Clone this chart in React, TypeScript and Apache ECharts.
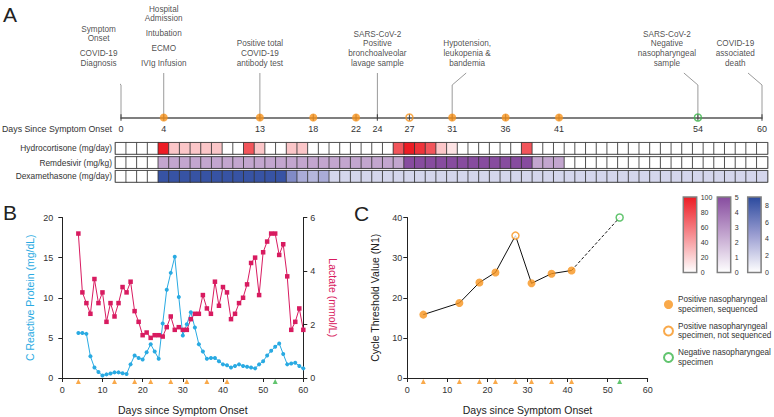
import React, { useEffect, useRef } from 'react';
import * as echarts from 'echarts';

const FONT = '"Liberation Sans", Arial, Helvetica, sans-serif';
const ORANGE = '#f7941d';
const GREEN = '#39b54a';
const BLUE = '#29aae2';
const CRIMSON = '#d81b60';

// ---------- Panel A: timeline ----------
const timelineDays = [0, 4, 13, 18, 22, 24, 27, 31, 36, 41, 54, 60];
const sampleDaysSeq = [4, 13, 18, 22, 31, 36, 41];
const sampleDaysNotSeq = [27];
const sampleDaysNeg = [54];

const annotationDays = [0, 4, 13, 24, 31, 54, 60];
const annotationTexts = [
  [['Symptom', 'Onset'], ['COVID-19', 'Diagnosis']],
  [['Hospital', 'Admission'], ['Intubation'], ['ECMO'], ['IVIg Infusion']],
  [['Positive total', 'COVID-19', 'antibody test']],
  [['SARS-CoV-2', 'Positive', 'bronchoalveolar', 'lavage sample']],
  [['Hypotension,', 'leukopenia &', 'bandemia']],
  [['SARS-CoV-2', 'Negative', 'nasopharyngeal', 'sample']],
  [['COVID-19', 'associated', 'death']],
];
// layout only (in days): text centre shift and leader-line bend
const annotationTextShift = [-2.1, 0, 0, 0, 1.4, -2.9, -2.5];
const annotationBend = [-1.03, 0, 0, 0, 1.31, -1.31, -1.31];

// ---------- Panel A: treatment heatmap ----------
const treatmentNames = ['Hydrocortisone (mg/day)', 'Remdesivir (mg/kg)', 'Dexamethasone (mg/day)'];
const hydrocortisone = [
  0, 0, 0, 0, 100, 25, 25, 25, 25, 25,
  0, 0, 75, 25, 0, 0, 25, 25, 0, 0,
  0, 0, 0, 0, 0, 0, 75, 100, 90, 75,
  25, 12.5, 0, 0, 0, 0, 0, 0, 75, 0,
  0, 0, 0, 0, 0, 0, 0, 0, 0, 0,
  0, 0, 0, 0, 0, 0, 0, 0, 0, 0,
  0,
];
const remdesivir = [
  0, 0, 0, 0, 2.5, 2.5, 2.5, 2.5, 2.5, 2.5,
  2.5, 2.5, 2.5, 2.5, 2.5, 2.5, 2.5, 2.5, 2.5, 2.5,
  2.5, 2.5, 2.5, 2.5, 2.5, 2.5, 2.5, 5, 5, 5,
  5, 5, 5, 5, 5, 5, 5, 5, 5, 2.5,
  2.5, 2.5, 0, 0, 0, 0, 0, 0, 0, 0,
  0, 0, 0, 0, 0, 0, 0, 0, 0, 0,
  0,
];
const dexamethasone = [
  0, 0, 0, 0, 8.5, 8.5, 8.5, 8.5, 8.5, 8.5,
  8.5, 8.5, 8.5, 8.5, 8.5, 8.5, 5.5, 3.8, 3.3, 3.8,
  1.9, 1.9, 1.9, 1.9, 1.9, 1.9, 1.9, 1.9, 1.9, 1.9,
  1.9, 1.9, 1.9, 1.9, 1.9, 1.9, 1.9, 1.9, 1.9, 1.9,
  1.9, 1.9, 1.9, 1.9, 1.9, 1.9, 1.9, 1.9, 1.9, 1.9,
  1.9, 1.9, 1.9, 1.9, 1.9, 1.9, 1.9, 1.9, 1.9, 1.9,
  1.9,
];
const treatmentValues = [hydrocortisone, remdesivir, dexamethasone];
const scaleMax = [100, 5, 9];
const scaleInterval = [20, 1, 2];
const scaleRamps = [
  ['#ffffff', '#ed1c24'],
  ['#ffffff', '#874c9f'],
  ['#ffffff', '#9a9dd1', '#2b4a9e'],
];

// ---------- Panel B ----------
const labDays = [
  4, 5, 6, 7, 8, 9, 10, 11, 12, 13,
  14, 15, 16, 17, 18, 19, 20, 21, 22, 23,
  24, 25, 26, 27, 28, 29, 30, 31, 32, 33,
  34, 35, 36, 37, 38, 39, 40, 41, 42, 43,
  44, 45, 46, 47, 48, 49, 50, 51, 52, 53,
  54, 55, 56, 57, 58, 59, 60,
];
const crp = [
  5.6, 5.6, 5.5, 2.7, 1.3, 0.75, 0.3, 0.45, 0.55, 0.7,
  0.7, 0.6, 0.5, 1.7, 2.8, 2.5, 2.3, 3.2, 4.2, 3.3,
  2.4, 6.8, 11.0, 13.1, 15.1, 10.1, 5.3, 6.7, 8.2, 6.3,
  4.2, 3.3, 2.4, 2.5, 2.5, 2.1, 1.7, 1.6, 1.3, 1.5,
  1.7, 1.5, 1.4, 1.3, 1.2, 1.7, 2.1, 2.8, 3.4, 3.9,
  4.3, 3.0, 1.7, 1.8, 1.9, 1.5, 1.2,
];
const lactate = [
  5.4, 3.2, 2.8, 2.4, 3.7, 2.8, 3.2, 2.1, 2.8, 2.3,
  2.8, 3.4, 3.2, 3.6, 2.5, 2.1, 1.6, 1.7, 1.5, 1.6,
  1.6, 1.55, 1.9, 2.3, 1.8, 1.9, 1.8, 1.8, 2.2, 2.4,
  2.4, 3.1, 2.6, 2.4, 3.6, 2.7, 3.4, 3.2, 2.2, 2.4,
  2.8, 3.0, 3.5, 4.3, 4.5, 3.1, 4.7, 5.1, 5.4, 5.4,
  4.6, 5.0, 3.8, 1.8, 2.1, 2.6, 1.8,
];
const posTriangleDays = [4, 13, 18, 22, 27, 31, 36, 41];
const negTriangleDays = [53];

// ---------- Panel C ----------
const ctDays = [4, 13, 18, 22, 27, 31, 36, 41, 53];
const ctValues = [15.8, 18.7, 23.8, 26.3, 35.5, 23.6, 26.0, 26.8, 40];
const ctStatus = ['seq', 'seq', 'seq', 'seq', 'notseq', 'seq', 'seq', 'seq', 'neg'];
const legendNames = {
  seq: 'Positive nasopharyngeal\nspecimen, sequenced',
  notseq: 'Positive nasopharyngeal\nspecimen, not sequenced',
  neg: 'Negative nasopharyngeal\nspecimen',
};

function buildOption() {
  const grids: any[] = [];
  const xAxes: any[] = [];
  const yAxes: any[] = [];
  const series: any[] = [];
  const visualMaps: any[] = [];
  const TL_H = 117.5;
  const py = (p: number) => TL_H - p;
  const txt = { fontFamily: FONT, color: '#333' };

  // ---- timeline grid (0) ----
  grids.push({ left: 121, top: 0, width: 641, height: TL_H });
  xAxes.push({
    gridIndex: 0, type: 'value', min: 0, max: 60,
    axisLine: { show: true, lineStyle: { color: '#555', width: 1.6 } },
    axisTick: { show: false }, splitLine: { show: false },
    axisLabel: { customValues: timelineDays, fontSize: 9, margin: 7, ...txt },
  });
  yAxes.push({ gridIndex: 0, type: 'value', min: 0, max: TL_H, show: false });

  const leaderData = annotationDays.map((d, i) => {
    const b = annotationBend[i];
    const coords = b === 0
      ? [[d, py(73)], [d, 0]]
      : [[d + b, py(73)], [d, py(85)], [d, 0]];
    return { coords };
  });
  series.push({
    type: 'lines', coordinateSystem: 'cartesian2d', xAxisIndex: 0, yAxisIndex: 0,
    polyline: true, silent: true, z: 1,
    lineStyle: { color: '#9a9a9a', width: 1, opacity: 1 },
    data: leaderData,
  });

  const annotData: any[] = [];
  annotationDays.forEach((d, i) => {
    let p = 63.3;
    const groups = annotationTexts[i];
    for (let g = groups.length - 1; g >= 0; g--) {
      const lines = groups[g];
      for (let l = lines.length - 1; l >= 0; l--) {
        annotData.push({ name: lines[l], value: [d + annotationTextShift[i], py(p)] });
        if (l > 0) p -= 9.7;
      }
      p -= 14.8;
    }
  });
  series.push({
    type: 'scatter', xAxisIndex: 0, yAxisIndex: 0, silent: true, clip: false,
    symbolSize: 1, itemStyle: { color: 'rgba(0,0,0,0)' },
    label: { show: true, position: 'inside', formatter: '{b}', fontSize: 8.2, fontFamily: FONT, color: '#222' },
    data: annotData,
  });

  series.push({
    type: 'scatter', xAxisIndex: 0, yAxisIndex: 0, silent: true, clip: false, z: 2,
    symbol: 'rect', symbolSize: [1.2, 6.5], itemStyle: { color: '#333' },
    data: timelineDays.map((d) => [d, 0]),
  });
  series.push({
    type: 'scatter', xAxisIndex: 0, yAxisIndex: 0, silent: true, clip: false, z: 3,
    symbol: 'circle', symbolSize: 8, itemStyle: { color: ORANGE },
    data: sampleDaysSeq.map((d) => [d, 0]),
  });
  series.push({
    type: 'scatter', xAxisIndex: 0, yAxisIndex: 0, silent: true, clip: false, z: 3,
    symbol: 'circle', symbolSize: 7, itemStyle: { color: 'rgba(255,255,255,0)', borderColor: ORANGE, borderWidth: 1.5 },
    data: sampleDaysNotSeq.map((d) => [d, 0]),
  });
  series.push({
    type: 'scatter', xAxisIndex: 0, yAxisIndex: 0, silent: true, clip: false, z: 3,
    symbol: 'circle', symbolSize: 7, itemStyle: { color: 'rgba(255,255,255,0)', borderColor: GREEN, borderWidth: 1.5 },
    data: sampleDaysNeg.map((d) => [d, 0]),
  });

  // ---- heatmap rows (grids 1-3) ----
  const heatTops = [142.7, 156.9, 170.7];
  const dayCats = hydrocortisone.map((_, i) => String(i));
  treatmentNames.forEach((name, i) => {
    const gi = grids.length;
    grids.push({ left: 115.5, top: heatTops[i], width: 652, height: 11.3, show: true, borderColor: '#7f7f7f', borderWidth: 1.5 });
    xAxes.push({ gridIndex: gi, type: 'category', data: dayCats, show: false });
    yAxes.push({
      gridIndex: gi, type: 'category', data: [name],
      axisLine: { show: false }, axisTick: { show: false },
      axisLabel: { fontSize: 8.4, margin: 3.5, ...txt },
    });
    const si = series.length;
    series.push({
      type: 'heatmap', xAxisIndex: gi, yAxisIndex: gi, silent: true,
      itemStyle: { borderColor: '#333', borderWidth: 0.8 },
      data: treatmentValues[i].map((v, d) => [d, 0, v]),
    });
    visualMaps.push({
      type: 'continuous', show: false, seriesIndex: si, dimension: 2,
      min: 0, max: scaleMax[i], inRange: { color: scaleRamps[i] },
    });
  });

  // ---- Panel B (grid 4) ----
  const axisCommon = {
    axisLine: { show: true, lineStyle: { color: '#222', width: 1 } },
    axisTick: { show: true, length: 4, lineStyle: { color: '#222' } },
    splitLine: { show: false },
  };
  const gB = grids.length;
  grids.push({ left: 62.3, top: 217.5, width: 241, height: 160.5 });
  const xB = xAxes.length;
  xAxes.push({
    gridIndex: gB, type: 'value', min: 0, max: 60, interval: 10, ...axisCommon,
    axisLabel: { fontSize: 9, margin: 7, ...txt },
    name: 'Days since Symptom Onset', nameLocation: 'middle', nameGap: 26,
    nameTextStyle: { fontSize: 10.5, fontFamily: FONT, color: '#222' },
  });
  const yBL = yAxes.length;
  yAxes.push({
    gridIndex: gB, type: 'value', min: 0, max: 20, interval: 5, position: 'left', ...axisCommon,
    axisLabel: { fontSize: 9, margin: 9, ...txt },
    name: 'C Reactive Protein (mg/dL)', nameLocation: 'middle', nameGap: 27,
    nameTextStyle: { fontSize: 10.5, fontFamily: FONT, color: BLUE },
  });
  const yBR = yAxes.length;
  yAxes.push({
    gridIndex: gB, type: 'value', min: 0, max: 6, interval: 2, position: 'right', ...axisCommon,
    axisLabel: { fontSize: 9, margin: 7, ...txt },
    name: 'Lactate (mmol/L)', nameLocation: 'middle', nameGap: 24, nameRotate: -90,
    nameTextStyle: { fontSize: 10.5, fontFamily: FONT, color: CRIMSON },
  });
  series.push({
    type: 'line', xAxisIndex: xB, yAxisIndex: yBR, silent: true,
    symbol: 'rect', symbolSize: 4.5, itemStyle: { color: CRIMSON }, lineStyle: { color: CRIMSON, width: 1 },
    data: labDays.map((d, i) => [d, lactate[i]]),
  });
  series.push({
    type: 'line', xAxisIndex: xB, yAxisIndex: yBL, silent: true,
    symbol: 'circle', symbolSize: 4, itemStyle: { color: BLUE }, lineStyle: { color: BLUE, width: 1 },
    data: labDays.map((d, i) => [d, crp[i]]),
  });

  // ---- Panel C (grid 5) ----
  const gC = grids.length;
  grids.push({ left: 407.3, top: 217.5, width: 240.4, height: 160.5 });
  const xC = xAxes.length;
  xAxes.push({
    gridIndex: gC, type: 'value', min: 0, max: 60, interval: 10, ...axisCommon,
    axisLabel: { fontSize: 9, margin: 7, ...txt },
    name: 'Days since Symptom Onset', nameLocation: 'middle', nameGap: 26,
    nameTextStyle: { fontSize: 10.5, fontFamily: FONT, color: '#222' },
  });
  const yC = yAxes.length;
  yAxes.push({
    gridIndex: gC, type: 'value', min: 0, max: 40, interval: 10, ...axisCommon,
    axisLabel: { fontSize: 9, margin: 5, ...txt },
    name: 'Cycle Threshold Value (N1)', nameLocation: 'middle', nameGap: 27,
    nameTextStyle: { fontSize: 10.5, fontFamily: FONT, color: '#222' },
  });

  // triangles on both B and C
  [[xB, yBL], [xC, yC]].forEach(([xa, ya]) => {
    series.push({
      type: 'scatter', xAxisIndex: xa, yAxisIndex: ya, silent: true, clip: false, z: 4,
      symbol: 'triangle', symbolSize: [5, 5], symbolOffset: [0, 3.5], itemStyle: { color: ORANGE },
      data: posTriangleDays.map((d) => [d, 0]),
    });
    series.push({
      type: 'scatter', xAxisIndex: xa, yAxisIndex: ya, silent: true, clip: false, z: 4,
      symbol: 'triangle', symbolSize: [5, 5], symbolOffset: [0, 3.5], itemStyle: { color: GREEN },
      data: negTriangleDays.map((d) => [d, 0]),
    });
  });

  const ctPts = ctDays.map((d, i) => [d, ctValues[i]]);
  const posIdx = ctStatus.map((s, i) => (s !== 'neg' ? i : -1)).filter((i) => i >= 0);
  const negIdx = ctStatus.map((s, i) => (s === 'neg' ? i : -1)).filter((i) => i >= 0);
  series.push({
    type: 'line', xAxisIndex: xC, yAxisIndex: yC, silent: true, symbol: 'none',
    lineStyle: { color: '#111', width: 1 },
    data: posIdx.map((i) => ctPts[i]),
  });
  series.push({
    type: 'line', xAxisIndex: xC, yAxisIndex: yC, silent: true, symbol: 'none',
    lineStyle: { color: '#111', width: 1, type: [3, 2] },
    data: [ctPts[posIdx[posIdx.length - 1]], ...negIdx.map((i) => ctPts[i])],
  });
  series.push({
    name: legendNames.seq, type: 'scatter', xAxisIndex: xC, yAxisIndex: yC, silent: true, clip: false, z: 5,
    symbol: 'circle', symbolSize: 8, itemStyle: { color: ORANGE },
    data: ctPts.filter((_, i) => ctStatus[i] === 'seq'),
  });
  series.push({
    name: legendNames.notseq, type: 'scatter', xAxisIndex: xC, yAxisIndex: yC, silent: true, clip: false, z: 5,
    symbol: 'circle', symbolSize: 7, itemStyle: { color: '#ffffff', borderColor: ORANGE, borderWidth: 1.5 },
    data: ctPts.filter((_, i) => ctStatus[i] === 'notseq'),
  });
  series.push({
    name: legendNames.neg, type: 'scatter', xAxisIndex: xC, yAxisIndex: yC, silent: true, clip: false, z: 5,
    symbol: 'circle', symbolSize: 7, itemStyle: { color: '#ffffff', borderColor: GREEN, borderWidth: 1.5 },
    data: ctPts.filter((_, i) => ctStatus[i] === 'neg'),
  });

  // ---- colour bars (grids 6-8) ----
  const barLefts = [683.3, 717.3, 747.7];
  scaleMax.forEach((mx, i) => {
    const gi = grids.length;
    grids.push({ left: barLefts[i], top: 197, width: 13.4, height: 75.5, show: true, borderColor: '#808080', borderWidth: 1.5, z: 3 });
    const xi = xAxes.length;
    xAxes.push({ gridIndex: gi, type: 'category', data: ['v'], show: false });
    const yi = yAxes.length;
    yAxes.push({
      gridIndex: gi, type: 'value', min: 0, max: mx, interval: scaleInterval[i], position: 'right',
      axisLine: { show: false }, splitLine: { show: false },
      axisTick: { show: true, inside: true, length: 2, lineStyle: { color: '#333', width: 0.8 } },
      axisLabel: { fontSize: 7, margin: 4, showMaxLabel: mx % scaleInterval[i] === 0, ...txt },
    });
    yAxes.push({
      gridIndex: gi, type: 'value', min: 0, max: mx, interval: scaleInterval[i], position: 'left',
      axisLine: { show: false }, splitLine: { show: false },
      axisTick: { show: true, inside: true, length: 2, lineStyle: { color: '#333', width: 0.8 } },
      axisLabel: { show: false },
    });
    const ramp = scaleRamps[i];
    // ascending offsets: top (offset 0) = strongest colour
    const stops = ramp
      .map((c, k) => ({ offset: 1 - k / (ramp.length - 1), color: c }))
      .reverse();
    series.push({
      type: 'bar', xAxisIndex: xi, yAxisIndex: yi, silent: true, barWidth: '100%', z: 1,
      itemStyle: { color: new echarts.graphic.LinearGradient(0, 0, 0, 1, stops) },
      data: [mx],
    });
  });

  return {
    animation: false,
    backgroundColor: '#ffffff',
    textStyle: { fontFamily: FONT },
    grid: grids,
    xAxis: xAxes,
    yAxis: yAxes,
    visualMap: visualMaps,
    series,
    legend: {
      data: [legendNames.seq, legendNames.notseq, legendNames.neg],
      orient: 'vertical', left: 658, top: 290,
      itemWidth: 9, itemHeight: 9, itemGap: 7.5, selectedMode: false,
      textStyle: { fontSize: 8.2, lineHeight: 9.5, fontFamily: FONT, color: '#333' },
    },
    graphic: [
      { type: 'text', left: 3, top: 4, style: { text: 'A', fontSize: 21, fontFamily: FONT, fill: '#222' } },
      { type: 'text', left: 3, top: 202, style: { text: 'B', fontSize: 21, fontFamily: FONT, fill: '#222' } },
      { type: 'text', left: 354, top: 203, style: { text: 'C', fontSize: 21, fontFamily: FONT, fill: '#222' } },
      {
        type: 'text', x: 112, y: 129.3,
        style: { text: 'Days Since Symptom Onset', fontSize: 8.8, fontFamily: FONT, fill: '#333', align: 'right', verticalAlign: 'middle' },
      },
    ],
  };
}

export default function App() {
  const ref = useRef<HTMLDivElement>(null);
  useEffect(() => {
    if (!ref.current) return;
    const chart = echarts.init(ref.current, undefined, { renderer: 'svg' });
    chart.setOption(buildOption() as any);
    return () => chart.dispose();
  }, []);
  return <div ref={ref} style={{ position: 'fixed', left: 0, top: 0, width: 774, height: 417, background: '#fff' }} />;
}
